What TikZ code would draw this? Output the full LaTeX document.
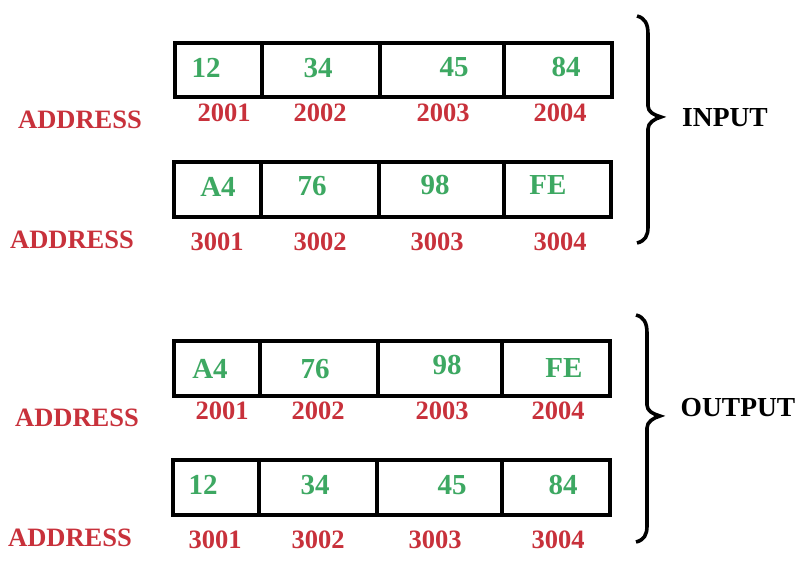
\documentclass[tikz,border=0pt]{standalone}
\usepackage{fontspec}
\setmainfont{Liberation Serif}
\definecolor{valgreen}{HTML}{3DA862}
\definecolor{addrred}{HTML}{C8313B}
\tikzset{
  cell/.style={draw=black, line width=4pt, inner sep=0pt, rectangle},
  val/.style={text=valgreen, font=\fontsize{29}{30}\selectfont\bfseries, inner sep=0pt},
  addr/.style={text=addrred, font=\fontsize{26.5}{28}\selectfont\bfseries, inner sep=0pt},
  side/.style={text=black, font=\fontsize{27.5}{29}\selectfont\bfseries, inner sep=0pt},
  bracestyle/.style={draw=black, line width=3.6pt},
  bigbrace/.pic={
    \draw[bracestyle] (0,0) .. controls (8,2) and (11,8) .. (11,18)
      -- (11,90) .. controls (11,96) and (17,99) .. (24,101)
      .. controls (17,103) and (11,107) .. (11,113)
      -- (11,211) .. controls (11,220) and (8,225) .. (0,227);
  }
}
\begin{document}
\begin{tikzpicture}[x=1pt,y=-1pt]
\useasboundingbox[fill=white] (0,0) rectangle (812,586);

% ---- row 1 cells
\node[cell, minimum width=87pt,  minimum height=54pt] (c11) at (218.5,70) {};
\node[cell, minimum width=118pt, minimum height=54pt] (c12) at (321,70) {};
\node[cell, minimum width=124pt, minimum height=54pt] (c13) at (442,70) {};
\node[cell, minimum width=108pt, minimum height=54pt] (c14) at (558,70) {};
% ---- row 2 cells
\node[cell, minimum width=87pt,  minimum height=55pt] (c21) at (217.5,189) {};
\node[cell, minimum width=118pt, minimum height=55pt] (c22) at (320,189) {};
\node[cell, minimum width=125pt, minimum height=55pt] (c23) at (441.5,189) {};
\node[cell, minimum width=106.5pt, minimum height=55pt] (c24) at (557.25,189) {};
% ---- row 3 cells
\node[cell, minimum width=86pt,  minimum height=55pt] (c31) at (217,368) {};
\node[cell, minimum width=118pt, minimum height=55pt] (c32) at (319,368) {};
\node[cell, minimum width=124pt, minimum height=55pt] (c33) at (440,368) {};
\node[cell, minimum width=107.5pt, minimum height=55pt] (c34) at (555.75,368) {};
% ---- row 4 cells
\node[cell, minimum width=86pt,  minimum height=55pt] (c41) at (216,487) {};
\node[cell, minimum width=118pt, minimum height=55pt] (c42) at (318,487) {};
\node[cell, minimum width=125pt, minimum height=55pt] (c43) at (439.5,487) {};
\node[cell, minimum width=107.5pt, minimum height=55pt] (c44) at (555.75,487) {};

% ---- values
\node[val] (v11) at (206,68) {12};
\node[val] (v12) at (318,68) {34};
\node[val] (v13) at (454,67) {45};
\node[val] (v14) at (566,67) {84};
\node[val] (v21) at (218,187) {A4};
\node[val] (v22) at (312,186) {76};
\node[val] (v23) at (435,185) {98};
\node[val] (v24) at (548,185) {FE};
\node[val] (v31) at (210,369) {A4};
\node[val] (v32) at (315,369) {76};
\node[val] (v33) at (447,365) {98};
\node[val] (v34) at (564,368) {FE};
\node[val] (v41) at (203,485) {12};
\node[val] (v42) at (315,485) {34};
\node[val] (v43) at (452,485) {45};
\node[val] (v44) at (563,485) {84};

% ---- addresses
\node[addr] (a11) at (224,113) {2001};
\node[addr] (a12) at (320,113) {2002};
\node[addr] (a13) at (443,113) {2003};
\node[addr] (a14) at (560,113) {2004};
\node[addr] (a21) at (217,242) {3001};
\node[addr] (a22) at (320,242) {3002};
\node[addr] (a23) at (437,242) {3003};
\node[addr] (a24) at (560,242) {3004};
\node[addr] (a31) at (222,411) {2001};
\node[addr] (a32) at (318,411) {2002};
\node[addr] (a33) at (442,411) {2003};
\node[addr] (a34) at (558,411) {2004};
\node[addr] (a41) at (215,540) {3001};
\node[addr] (a42) at (318,540) {3002};
\node[addr] (a43) at (435,540) {3003};
\node[addr] (a44) at (558,540) {3004};

% ---- ADDRESS labels
\node[addr] (lab1) at (80,120) {ADDRESS};
\node[addr] (lab2) at (72,240) {ADDRESS};
\node[addr] (lab3) at (77,418) {ADDRESS};
\node[addr] (lab4) at (70,538) {ADDRESS};

% ---- braces and side labels
\pic at (637,16) {bigbrace};
\pic at (636,315) {bigbrace};
\node[side] (inp) at (725,118) {INPUT};
\node[side] (outp) at (738,408) {OUTPUT};
\end{tikzpicture}
\end{document}
